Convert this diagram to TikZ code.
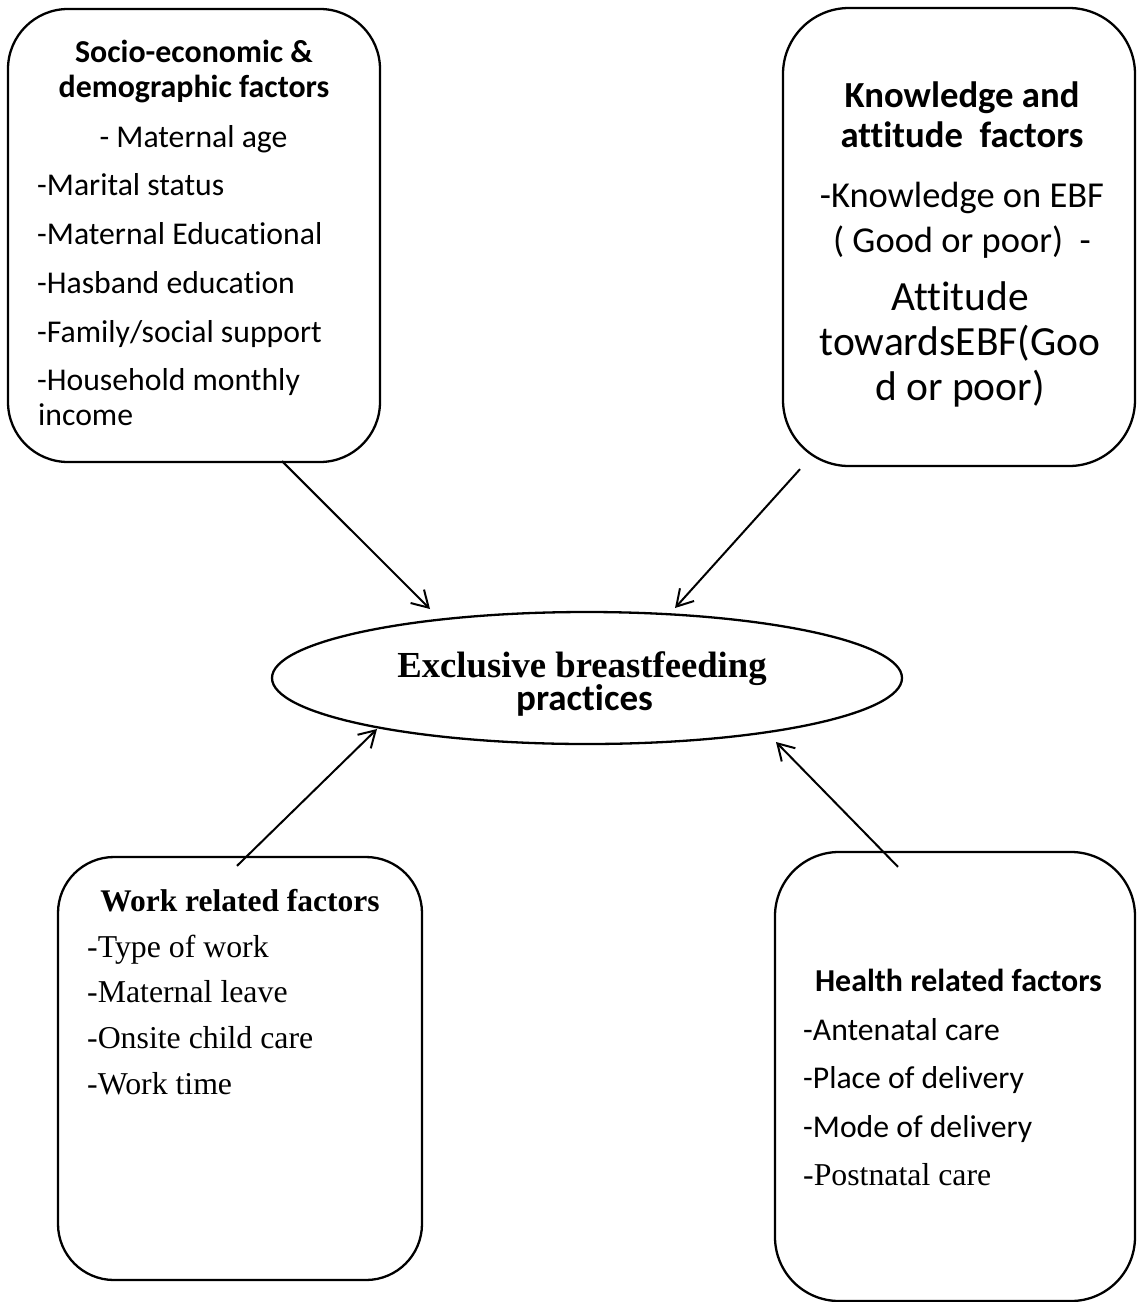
\documentclass[tikz,border=0pt]{standalone}
\usepackage{fontspec}
\setmainfont{Carlito}[Ligatures={TeX,NoCommon}]
\newfontfamily\timesf{Liberation Serif}[Ligatures={TeX,NoCommon}]
\usetikzlibrary{shapes.geometric,arrows.meta}
\tikzset{
  x=1pt, y={(0pt,-1pt)},
  frame/.style={draw, line width=2.3pt, rounded corners=60pt, inner sep=0pt},
  oval/.style={draw, ellipse, line width=2.3pt, inner sep=0pt, minimum width=630pt, minimum height=132pt},
  arr/.style={line width=2pt, -{Straight Barb[length=16pt,width=19pt,line width=2pt]}},
  txt/.style={inner sep=0pt, anchor=base},
  ltxt/.style={inner sep=0pt, anchor=base west},
  cal/.style={font=\fontsize{31.7}{38}\selectfont},
  calb/.style={font=\fontsize{31.9}{38}\selectfont\bfseries},
  tim/.style={font=\fontsize{31.8}{38}\selectfont\timesf},
  timb/.style={font=\fontsize{31.5}{38}\selectfont\timesf\bfseries},
}
\begin{document}
\begin{tikzpicture}
\useasboundingbox (0,0) rectangle (1136,1302);
% boxes
\node[frame, minimum width=372pt, minimum height=453pt] (socio) at (194,235.5) {};
\node[frame, minimum width=352pt, minimum height=458pt, rounded corners=66pt] (know) at (959,237) {};
\node[frame, minimum width=364pt, minimum height=423pt, rounded corners=56pt] (work) at (240,1068.5) {};
\node[frame, minimum width=360pt, minimum height=449pt, rounded corners=64pt] (health) at (955,1076.5) {};
\node[oval] (ebf) at (587,678) {};

% socio box text
\node[txt, calb] (s1) at (194,62) {Socio-economic \&};
\node[txt, calb] (s2) at (194,97) {demographic factors};
\node[txt, cal] (s3) at (193.5,147) {- Maternal age};
\node[ltxt, cal] (s4) at (37,195) {-Marital status};
\node[ltxt, cal] (s5) at (37,244) {-Maternal Educational};
\node[ltxt, cal] (s6) at (37,293) {-Hasband education};
\node[ltxt, cal] (s7) at (37,342) {-Family/social support};
\node[ltxt, cal] (s8) at (37,390) {-Household monthly};
\node[ltxt, cal] (s9) at (38,425) {income};

% knowledge box text
\node[txt, font=\fontsize{36.7}{44}\selectfont\bfseries] (k1) at (962,107) {Knowledge and};
\node[txt, font=\fontsize{36.7}{44}\selectfont\bfseries] (k2) at (962,147) {attitude\ \ factors};
\node[txt, font=\fontsize{36.5}{44}\selectfont] (k3) at (962,207) {-Knowledge on EBF};
\node[txt, font=\fontsize{36.5}{44}\selectfont] (k4) at (962,252) {(\ Good or poor)\ \ -};
\node[txt, font=\fontsize{41.5}{50}\selectfont] (k5) at (960,310) {Attitude};
\node[txt, font=\fontsize{41.5}{50}\selectfont] (k6) at (960,355) {towardsEBF(Goo};
\node[txt, font=\fontsize{41.5}{50}\selectfont] (k7) at (960,400) {d or poor)};

% ellipse text
\node[txt, font=\fontsize{36.7}{44}\selectfont\timesf\bfseries] (e1) at (582,677) {Exclusive breastfeeding};
\node[txt, font=\fontsize{37}{44}\selectfont\bfseries] (e2) at (584.5,710) {practices};

% work box text
\node[txt, timb] (w1) at (240,911) {Work related factors};
\node[ltxt, tim] (w2) at (87,957) {-Type of work};
\node[ltxt, tim] (w3) at (87,1002) {-Maternal leave};
\node[ltxt, tim] (w4) at (87,1048) {-Onsite child care};
\node[ltxt, tim] (w5) at (87,1094) {-Work time};

% health box text
\node[txt, calb] (h1) at (958.5,991) {Health related factors};
\node[ltxt, cal] (h2) at (803,1040) {-Antenatal care};
\node[ltxt, cal] (h3) at (803,1088) {-Place of delivery};
\node[ltxt, cal] (h4) at (803,1137) {-Mode of delivery};
\node[ltxt, tim] (h5) at (803,1185) {-Postnatal care};

% connectors
\draw[arr] ([xshift=88pt,yshift=2pt]socio.south) -- ([xshift=-157pt,yshift=69pt]ebf.center);
\draw[arr] ([xshift=-159pt,yshift=-2pt]know.south) -- ([xshift=88pt,yshift=70pt]ebf.center);
\draw[arr] ([xshift=-3pt,yshift=-10pt]work.north) -- ([xshift=-210pt,yshift=-51pt]ebf.center);
\draw[arr] ([xshift=-57pt,yshift=-16pt]health.north) -- ([xshift=189pt,yshift=-64pt]ebf.center);
\end{tikzpicture}
\end{document}
